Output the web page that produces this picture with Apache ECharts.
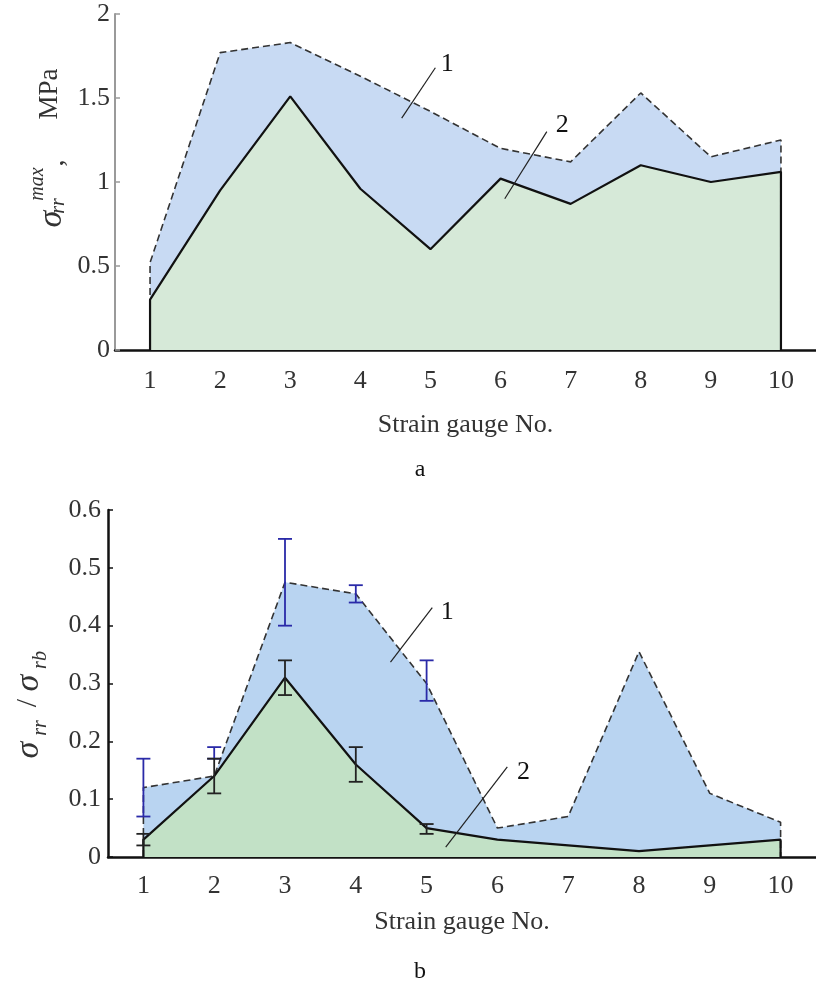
<!DOCTYPE html>
<html>
<head>
<meta charset="utf-8">
<script src="https://cdn.jsdelivr.net/npm/echarts@6/dist/echarts.min.js"></script>
<style>
  html, body { margin: 0; padding: 0; background: #fff; }
  #chart { width: 816px; height: 994px; }
</style>
</head>
<body>
<div id="chart"></div>
<script>
const gauges = [1, 2, 3, 4, 5, 6, 7, 8, 9, 10];

// panel a: sigma_rr^max, MPa
const aUpper = [0.52, 1.77, 1.83, 1.63, 1.42, 1.20, 1.12, 1.53, 1.15, 1.25];
const aLower = [0.30, 0.95, 1.51, 0.96, 0.60, 1.02, 0.87, 1.10, 1.00, 1.06];
const aTicks = [0, 0.5, 1, 1.5, 2];

// panel b: sigma_rr / sigma_rb
const bUpper = [0.12, 0.14, 0.475, 0.455, 0.30, 0.05, 0.07, 0.355, 0.11, 0.06];
const bLower = [0.03, 0.14, 0.31, 0.16, 0.05, 0.03, 0.02, 0.01, 0.02, 0.03];
const bTicks = [0, 0.1, 0.2, 0.3, 0.4, 0.5, 0.6];

// error bars: [gauge, low, high]
const bUpperErr = [[1, 0.07, 0.17], [2, 0.17, 0.19], [3, 0.40, 0.55], [4, 0.44, 0.47], [5, 0.27, 0.34]];
const bLowerErr = [[1, 0.02, 0.04], [2, 0.11, 0.17], [3, 0.28, 0.34], [4, 0.13, 0.19], [5, 0.04, 0.057]];

const FONT = "'Liberation Serif', 'Times New Roman', serif";

// closed outline: drop to zero at first and last gauge
function outline(values) {
  const pts = gauges.map((g, i) => [g, values[i]]);
  return [[gauges[0], 0], ...pts, [gauges[gauges.length - 1], 0]];
}

function errorBar(color, lineWidth, capHalf) {
  return function (params, api) {
    const x = api.value(0);
    const lo = api.coord([x, api.value(1)]);
    const hi = api.coord([x, api.value(2)]);
    const style = { stroke: color, lineWidth: lineWidth };
    return {
      type: "group",
      children: [
        { type: "line", shape: { x1: hi[0], y1: hi[1], x2: lo[0], y2: lo[1] }, style },
        { type: "line", shape: { x1: hi[0] - capHalf, y1: hi[1], x2: hi[0] + capHalf, y2: hi[1] }, style },
        { type: "line", shape: { x1: lo[0] - capHalf, y1: lo[1], x2: lo[0] + capHalf, y2: lo[1] }, style },
      ],
    };
  };
}

// leader lines and their numbers
function notes(lines, labels) {
  return {
    markLine: {
      silent: true,
      symbol: "none",
      animation: false,
      label: { show: false },
      lineStyle: { color: "#222", width: 1.2, type: "solid" },
      data: lines.map((l) => [{ coord: l[0] }, { coord: l[1] }]),
    },
    markPoint: {
      silent: true,
      animation: false,
      symbol: "circle",
      symbolSize: 1,
      itemStyle: { color: "rgba(0,0,0,0)" },
      label: {
        show: true,
        position: "inside",
        formatter: "{b}",
        fontFamily: FONT,
        fontSize: 26,
        color: "#111",
      },
      data: labels.map((l) => ({ coord: l[0], name: l[1] })),
    },
  };
}

function xAxisFor(gridIndex, nameGap, margin) {
  return {
    type: "value",
    gridIndex,
    min: 0.5,
    max: 10.5,
    name: "Strain gauge No.",
    nameLocation: "middle",
    nameGap,
    nameTextStyle: { fontFamily: FONT, fontSize: 26, color: "#333" },
    axisLine: { show: true, onZero: false, lineStyle: { color: "#111", width: 2.5 } },
    axisTick: { show: false },
    splitLine: { show: false },
    axisLabel: {
      customValues: gauges,
      margin,
      fontFamily: FONT,
      fontSize: 26,
      color: "#333",
    },
  };
}

function yAxisFor(gridIndex, ticks, lineColor, lineWidth, margin) {
  return {
    type: "value",
    gridIndex,
    min: ticks[0],
    max: ticks[ticks.length - 1],
    interval: ticks[1] - ticks[0],
    axisLine: { show: true, lineStyle: { color: lineColor, width: lineWidth } },
    axisTick: { show: true, inside: true, length: 5, lineStyle: { color: lineColor, width: 1.5 } },
    splitLine: { show: false },
    axisLabel: {
      margin,
      fontFamily: FONT,
      fontSize: 26,
      color: "#333",
      formatter: (v) => String(+v.toFixed(2)),
    },
  };
}

function rotText(x, y, text, font, align) {
  return {
    type: "text", x, y, rotation: Math.PI / 2,
    style: { text, font: font + " " + FONT, fill: "#333", align: align || "center", verticalAlign: "middle" },
  };
}

const chart = echarts.init(document.getElementById("chart"));

chart.setOption({
  animation: false,
  grid: [
    { left: 115, top: 14, width: 701, height: 336 },
    { left: 108, top: 510, width: 708, height: 347 },
  ],
  xAxis: [xAxisFor(0, 62, 18), xAxisFor(1, 52, 16)],
  yAxis: [
    yAxisFor(0, aTicks, "#9a9a9a", 2, 5),
    yAxisFor(1, bTicks, "#111", 2.5, 7),
  ],
  series: [
    {
      type: "line",
      xAxisIndex: 0,
      yAxisIndex: 0,
      data: outline(aUpper),
      symbol: "none",
      lineStyle: { color: "#333", width: 1.6, type: [7, 4] },
      areaStyle: { color: "#c8daf3", opacity: 1 },
    },
    Object.assign({
      type: "line",
      xAxisIndex: 0,
      yAxisIndex: 0,
      data: outline(aLower),
      symbol: "none",
      lineStyle: { color: "#111", width: 2.2 },
      areaStyle: { color: "#d6e9d8", opacity: 1 },
    }, notes(
      [[[4.59, 1.38], [5.07, 1.68]], [[6.06, 0.9], [6.66, 1.3]]],
      [[[5.24, 1.70], "1"], [[6.88, 1.34], "2"]]
    )),
    {
      type: "line",
      xAxisIndex: 1,
      yAxisIndex: 1,
      data: outline(bUpper),
      symbol: "none",
      lineStyle: { color: "#333", width: 1.6, type: [7, 4] },
      areaStyle: { color: "#b9d4f1", opacity: 1 },
    },
    Object.assign({
      type: "line",
      xAxisIndex: 1,
      yAxisIndex: 1,
      data: outline(bLower),
      symbol: "none",
      lineStyle: { color: "#111", width: 2.2 },
      areaStyle: { color: "#c2e1c6", opacity: 1 },
    }, notes(
      [[[4.49, 0.337], [5.08, 0.431]], [[5.27, 0.017], [6.14, 0.156]]],
      [[[5.29, 0.424], "1"], [[6.37, 0.147], "2"]]
    )),
    {
      type: "custom",
      xAxisIndex: 1,
      yAxisIndex: 1,
      data: bUpperErr,
      encode: { x: 0, y: [1, 2] },
      renderItem: errorBar("#2a2aa8", 1.8, 7),
      z: 4,
    },
    {
      type: "custom",
      xAxisIndex: 1,
      yAxisIndex: 1,
      data: bLowerErr,
      encode: { x: 0, y: [1, 2] },
      renderItem: errorBar("#222", 1.8, 7),
      z: 4,
    },
  ],
  graphic: [
    // y name, panel a
    rotText(52, 219, "σ", "italic 34px"),
    rotText(38, 184, "max", "italic 20px"),
    rotText(59, 206, "rr", "italic 20px"),
    rotText(56, 163, ",", "28px"),
    rotText(50, 94, "MPa", "27px"),
    // y name, panel b
    rotText(29, 750, "σ", "italic 34px"),
    rotText(41, 728, "rr", "italic 20px"),
    rotText(28, 703, "/", "30px"),
    rotText(29, 683, "σ", "italic 34px"),
    rotText(41, 660, "rb", "italic 20px"),
    // panel letters
    { type: "text", x: 420, y: 470,
      style: { text: "a", font: "24px " + FONT, fill: "#111", align: "center", verticalAlign: "middle" } },
    { type: "text", x: 420, y: 972,
      style: { text: "b", font: "24px " + FONT, fill: "#111", align: "center", verticalAlign: "middle" } },
  ],
});
</script>
</body>
</html>
